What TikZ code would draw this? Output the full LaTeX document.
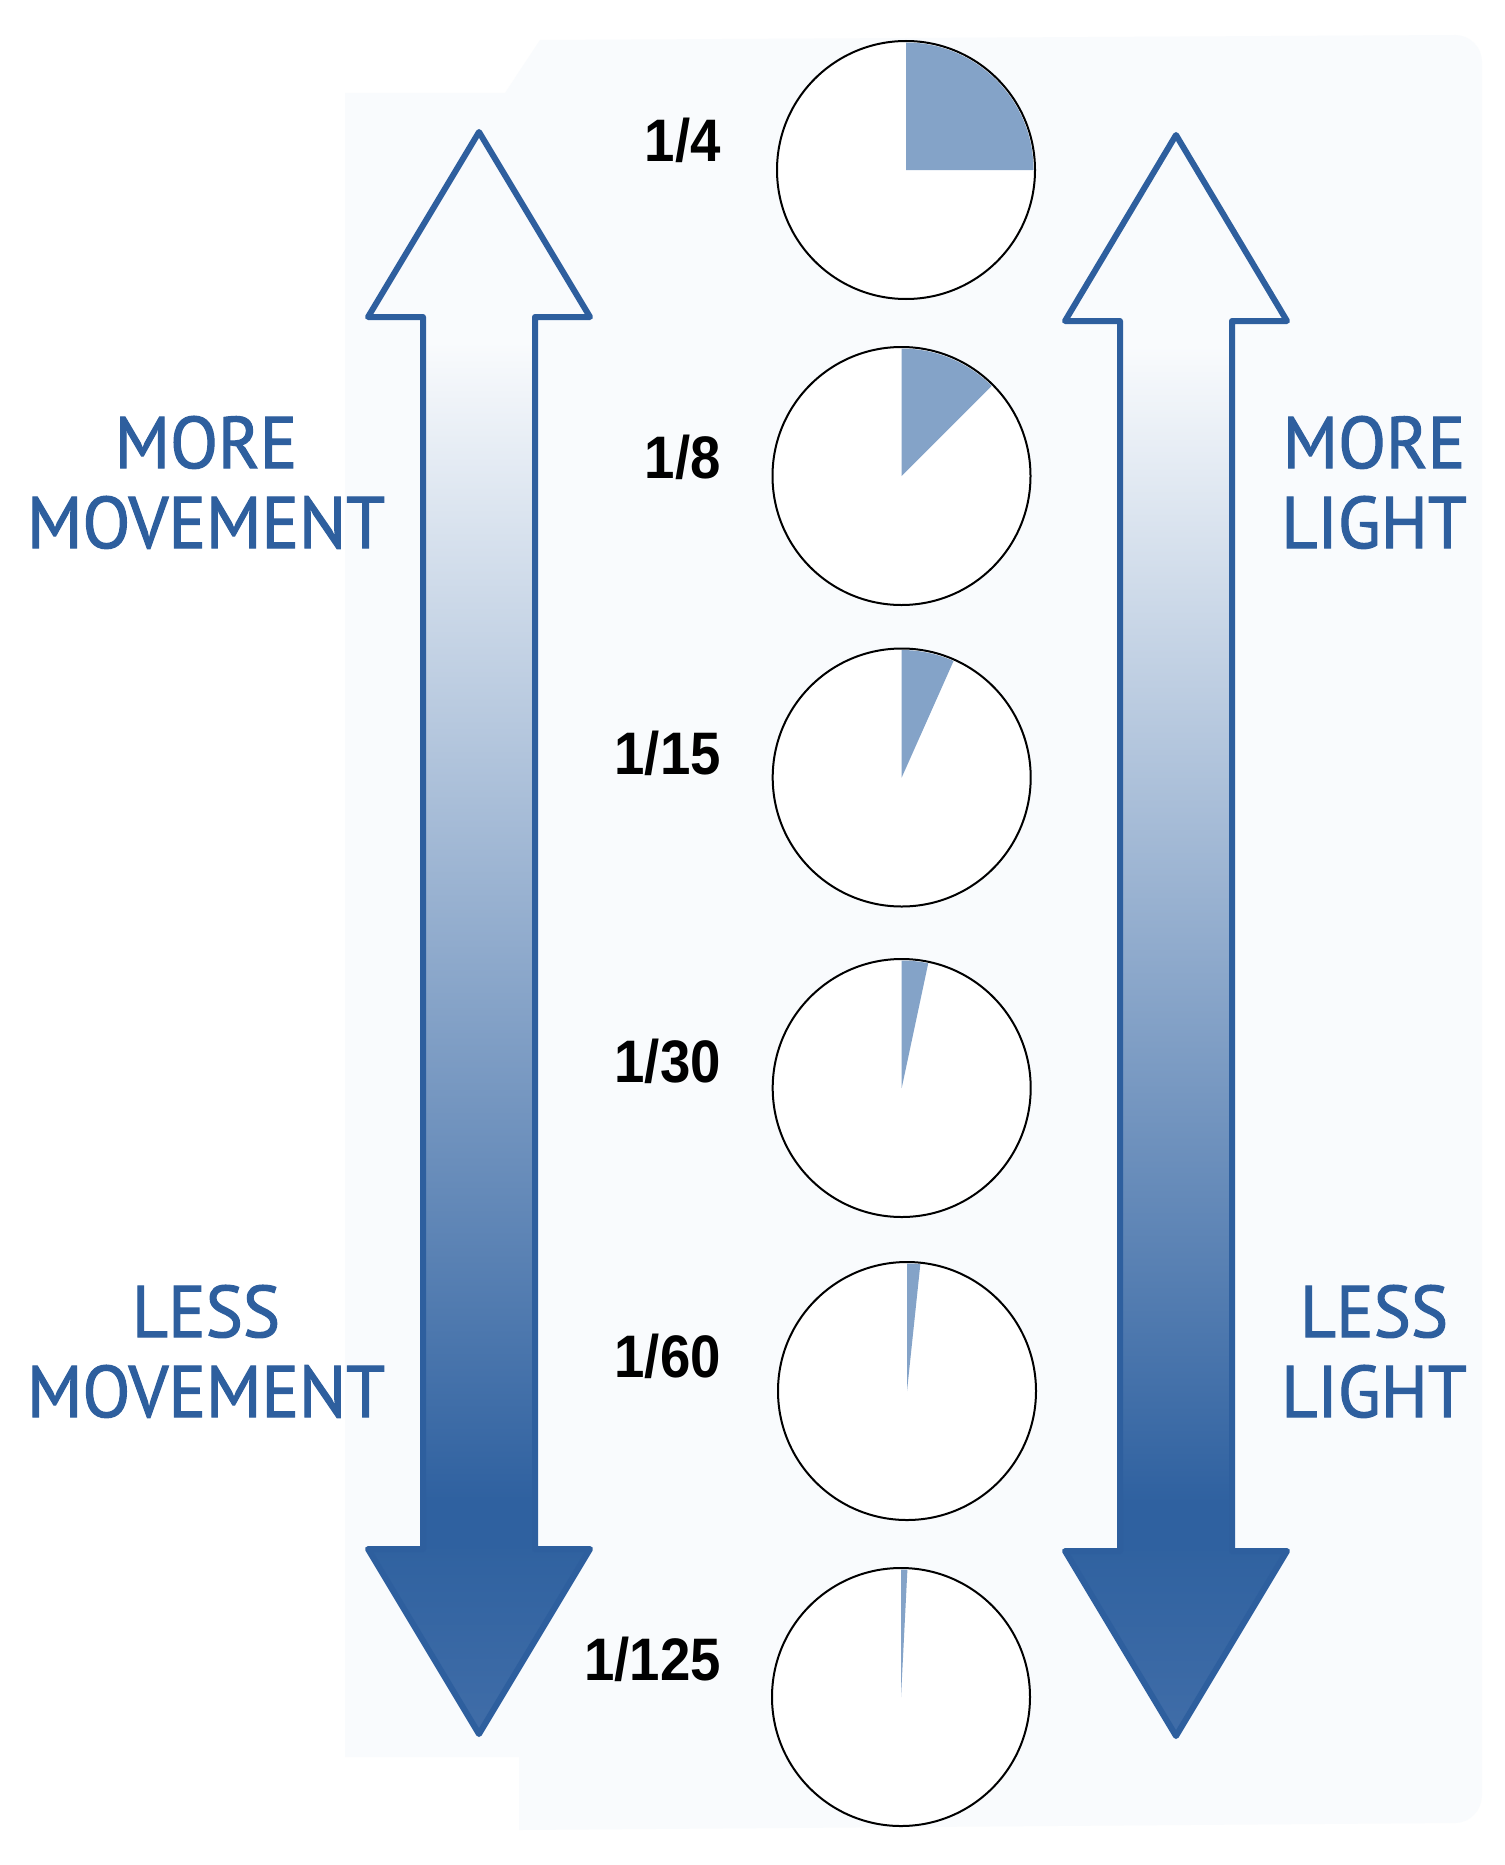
\documentclass[tikz,border=0pt]{standalone}
\usepackage{fontspec}
\setmainfont{PT Sans}
\newfontfamily\labfont{PT Sans}[FakeBold=1.6]
\newfontfamily\numfont{Liberation Sans}
\definecolor{arrowblue}{HTML}{2E5F9E}
\definecolor{shaftdark}{HTML}{2F61A0}
\definecolor{panel}{HTML}{F9FBFD}
\definecolor{wedgeblue}{HTML}{84A3C8}
\definecolor{headbase}{HTML}{3062A0}
\definecolor{headtip}{HTML}{406DA8}
\pgfdeclareverticalshading{shaftgrad}{100bp}{color(0bp)=(shaftdark); color(27bp)=(shaftdark); color(74bp)=(panel); color(100bp)=(panel)}
\tikzset{
  biglab/.style={anchor=base, text=arrowblue, font=\labfont\fontsize{73}{73}\selectfont, xscale=0.96, inner sep=0pt},
  numlab/.style={anchor=base east, font=\numfont\bfseries\fontsize{60}{60}\selectfont, xscale=0.91, inner sep=0pt},
  dial/.style={circle, minimum size=258pt, inner sep=0pt, draw=black, line width=2pt, fill=white},
  wedge/.style={fill=wedgeblue},
  outline/.style={draw=arrowblue, line width=6pt, line join=round}
}
\newcommand\dblarrow[5]{%
  \fill[panel] ({#1-111},#3) -- (#1,#2) -- ({#1+111},#3) -- cycle;
  \shade[shading=shaftgrad] ({#1-56},#3) rectangle ({#1+56},#4);
  \shade[top color=headbase, bottom color=headtip] ({#1-111},#4) -- ({#1+111},#4) -- (#1,#5) -- cycle;
  \path[outline] (#1,#2) -- ({#1+111},#3) -- ({#1+56},#3) -- ({#1+56},#4) -- ({#1+111},#4) -- (#1,#5) -- ({#1-111},#4) -- ({#1-56},#4) -- ({#1-56},#3) -- ({#1-111},#3) -- cycle;
}
\newcommand\dialwedge[2]{% node, sweep angle
  \fill[wedge] (#1.center) -- ++(-90:127.5) arc[start angle=-90, end angle={#2-90}, radius=127.5] -- cycle;
}
\begin{document}
\begin{tikzpicture}[x=1pt, y=-1pt]
\useasboundingbox[fill=white] (0,0) rectangle (1504,1865);
% faint panel
\fill[panel] (345,93) -- (505,93) -- (540,40) -- (1455,35) to[out=0,in=90] (1482,62) -- (1482,1795) to[out=-90,in=0] (1455,1823) -- (519,1830) -- (519,1757) -- (345,1757) -- cycle;
% arrows
\dblarrow{479}{132}{317}{1549}{1734}
\dblarrow{1176}{135}{321}{1551}{1736}
% dials
\node[dial] (c1) at (906,170) {};
\dialwedge{c1}{90}
\node[dial] (c2) at (901.5,476) {};
\dialwedge{c2}{45}
\node[dial] (c3) at (901.7,777.5) {};
\dialwedge{c3}{24}
\node[dial] (c4) at (901.7,1088) {};
\dialwedge{c4}{12}
\node[dial] (c5) at (907,1391) {};
\dialwedge{c5}{6}
\node[dial] (c6) at (901,1697) {};
\dialwedge{c6}{2.88}
% numbers
\node[numlab] (n1) at (721,161) {1/4};
\node[numlab] (n2) at (721,478) {1/8};
\node[numlab] (n3) at (721,774.5) {1/15};
\node[numlab] (n4) at (721,1082) {1/30};
\node[numlab] (n5) at (721,1377) {1/60};
\node[numlab] (n6) at (721,1680) {1/125};
% side labels
\node[biglab] (lm1) at (206,468) {MORE};
\node[biglab] (lm2) at (206,548) {MOVEMENT};
\node[biglab] (ll1) at (206,1337) {LESS};
\node[biglab] (ll2) at (206,1417) {MOVEMENT};
\node[biglab] (rm1) at (1374,468) {MORE};
\node[biglab] (rm2) at (1374,548) {LIGHT};
\node[biglab] (rl1) at (1374,1337) {LESS};
\node[biglab] (rl2) at (1374,1417) {LIGHT};
\end{tikzpicture}
\end{document}
